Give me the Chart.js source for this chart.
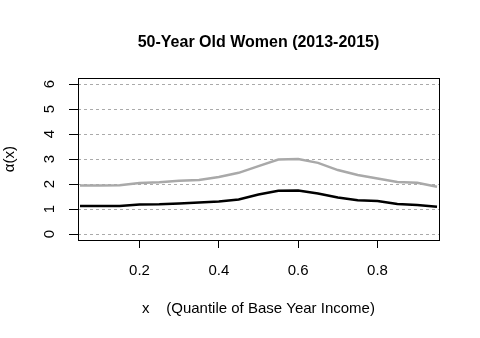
<!DOCTYPE html>
<html>
<head>
<meta charset="utf-8">
<script src="https://cdn.jsdelivr.net/npm/chart.js@4/dist/chart.umd.min.js"></script>
<style>
  html, body { margin: 0; padding: 0; background: #fff; }
  canvas { display: block; }
</style>
</head>
<body>
<canvas id="chart" width="480" height="338"></canvas>
<script>
// quantiles of base year income
const quantiles = [0.05, 0.10, 0.15, 0.20, 0.25, 0.30, 0.35, 0.40, 0.45, 0.50,
  0.55, 0.60, 0.65, 0.70, 0.75, 0.80, 0.85, 0.90, 0.95]
// alpha(x) curves
const upperSeries = [1.94, 1.94, 1.95, 2.04, 2.07, 2.13, 2.16, 2.28, 2.45, 2.72,
  2.98, 3.00, 2.85, 2.56, 2.36, 2.22, 2.08, 2.05, 1.89]
const lowerSeries = [1.12, 1.12, 1.12, 1.18, 1.19, 1.22, 1.26, 1.30, 1.38, 1.58,
  1.73, 1.74, 1.62, 1.46, 1.35, 1.32, 1.20, 1.16, 1.09]
const xTicks = [0.2, 0.4, 0.6, 0.8]
const yTicks = [0, 1, 2, 3, 4, 5, 6]

const FONT = 'Arial, "Liberation Sans", sans-serif'

const toPoints = (vals) => quantiles.map((q, i) => ({ x: q, y: vals[i] }))

// black frame round the plot area
const boxPlugin = {
  id: 'box',
  afterDraw(chart) {
    const { ctx, chartArea: a } = chart
    ctx.save()
    ctx.strokeStyle = '#000'
    ctx.lineWidth = 1
    ctx.strokeRect(Math.round(a.left) + 0.5, Math.round(a.top) + 0.5,
      Math.round(a.right - a.left), Math.round(a.bottom - a.top))
    ctx.restore()
  }
}

new Chart(document.getElementById('chart'), {
  type: 'line',
  data: {
    datasets: [
      {
        label: 'upper',
        data: toPoints(upperSeries),
        borderColor: '#a9a9a9',
        borderWidth: 2.5,
        pointRadius: 0,
        tension: 0
      },
      {
        label: 'lower',
        data: toPoints(lowerSeries),
        borderColor: '#000',
        borderWidth: 2.5,
        pointRadius: 0,
        tension: 0
      }
    ]
  },
  options: {
    responsive: false,
    animation: false,
    layout: { padding: { left: 0, right: 41, top: 0, bottom: 0 } },
    plugins: {
      legend: { display: false },
      tooltip: { enabled: false },
      title: {
        display: true,
        fullSize: false,
        text: '50-Year Old Women (2013-2015)',
        color: '#000',
        font: { family: FONT, size: 16, weight: 'bold' },
        padding: { top: 33, bottom: 26 }
      }
    },
    scales: {
      x: {
        type: 'linear',
        min: 0.045,
        max: 0.955,
        afterBuildTicks: (scale) => { scale.ticks = xTicks.map(v => ({ value: v })) },
        afterFit: (scale) => { scale.height = 98 },
        border: { display: false },
        grid: { drawOnChartArea: false, tickLength: 8, tickColor: '#000', tickWidth: 1 },
        ticks: {
          color: '#000',
          padding: 14,
          maxRotation: 0,
          font: { family: FONT, size: 15 },
          callback: (v) => v.toFixed(1)
        },
        title: {
          display: true,
          text: 'x    (Quantile of Base Year Income)',
          color: '#000',
          font: { family: FONT, size: 15 },
          padding: { top: 0, bottom: 20 }
        }
      },
      y: {
        min: -0.24,
        max: 6.24,
        afterBuildTicks: (scale) => { scale.ticks = yTicks.map(v => ({ value: v })) },
        afterFit: (scale) => { scale.width = 78 },
        border: { display: false, dash: [3, 3] },
        grid: {
          color: '#aaaaaa',
          lineWidth: 1,
          tickLength: 9,
          tickColor: '#000',
          tickBorderDash: [],
          tickWidth: 1
        },
        ticks: {
          color: '#000',
          minRotation: 90,
          maxRotation: 90,
          crossAlign: 'center',
          padding: 15,
          font: { family: FONT, size: 15 },
          callback: (v) => String(v)
        },
        title: {
          display: true,
          text: 'α(x)',
          color: '#000',
          font: { family: FONT, size: 15 },
          padding: { top: 1, bottom: 0 }
        }
      }
    }
  },
  plugins: [boxPlugin]
})
</script>
</body>
</html>
